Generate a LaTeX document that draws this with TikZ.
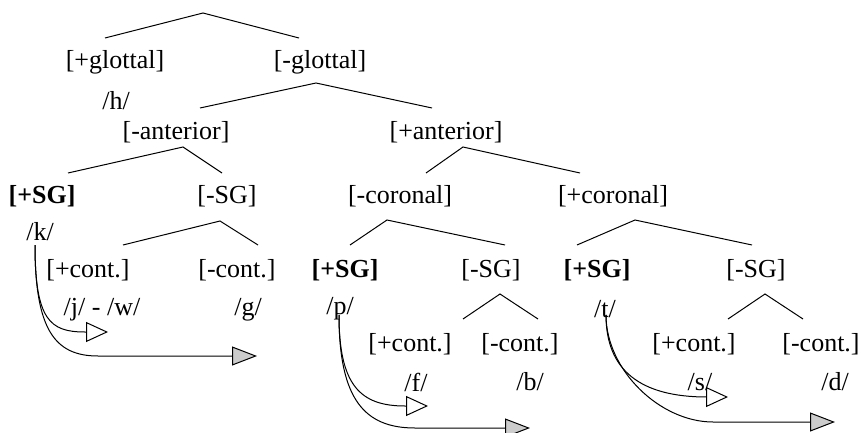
\documentclass[tikz,border=0pt]{standalone}
\usepackage{fontspec}
\setmainfont{Liberation Serif}
\usetikzlibrary{arrows.meta}
\begin{document}
\begin{tikzpicture}[x=1pt,y=-1pt,
  lbl/.style={inner sep=0pt, font=\fontsize{26}{30}\selectfont},
  bl/.style={inner sep=0pt, font=\fontsize{26}{30}\selectfont\bfseries},
  br/.style={line width=1pt},
  arr/.style={line width=1pt},
  opentip/.style={-{Triangle[fill=white, length=22pt, width=20pt]}},
  graytip/.style={-{Triangle[fill=gray!40, length=25pt, width=19pt]}}]
\useasboundingbox[fill=white] (0,0) rectangle (861,433);
% labels
\node[lbl] (glp) at (115,62) {[+glottal]};
\node[lbl] (glm) at (320,62) {[-glottal]};
\node[lbl] (h) at (116,101) {/h/};
\node[lbl] (antm) at (176,132) {[-anterior]};
\node[lbl] (antp) at (446,132) {[+anterior]};
\node[bl] (sg1) at (42,196) {[+SG]};
\node[lbl] (sgm1) at (227,196) {[-SG]};
\node[lbl] (corm) at (400,196) {[-coronal]};
\node[lbl] (corp) at (613,196) {[+coronal]};
\node[lbl] (k) at (40,232) {/k/};
\node[lbl] (contp1) at (88,270) {[+cont.]};
\node[lbl] (contm1) at (237,270) {[-cont.]};
\node[lbl] (jw) at (102,310) {/j/ - /w/};
\node[lbl] (g) at (248,310) {/g/};
\node[bl] (sg2) at (345,270) {[+SG]};
\node[lbl] (sgm2) at (491,270) {[-SG]};
\node[lbl] (p) at (340,309) {/p/};
\node[lbl] (contp2) at (410,344) {[+cont.]};
\node[lbl] (contm2) at (520,344) {[-cont.]};
\node[lbl] (f) at (416,382) {/f/};
\node[lbl] (b) at (530,382) {/b/};
\node[bl] (sg3) at (597,270) {[+SG]};
\node[lbl] (sgm3) at (756,270) {[-SG]};
\node[lbl] (t) at (605,309) {/t/};
\node[lbl] (contp3) at (694,344) {[+cont.]};
\node[lbl] (contm3) at (821,344) {[-cont.]};
\node[lbl] (s) at (700,382) {/s/};
\node[lbl] (d) at (835,382) {/d/};
% tree branch points
\coordinate (r0l) at (105,38); \coordinate (r0) at (203,13); \coordinate (r0r) at (299,38);
\coordinate (r1l) at (200,108); \coordinate (r1) at (316,83); \coordinate (r1r) at (432,108);
\coordinate (r2l) at (68,173); \coordinate (r2) at (183,147); \coordinate (r2r) at (222,173);
\coordinate (r3l) at (426,173); \coordinate (r3) at (463,147); \coordinate (r3r) at (580,173);
\coordinate (r4l) at (123,245); \coordinate (r4) at (220,221); \coordinate (r4r) at (258,245);
\coordinate (r5l) at (350,245); \coordinate (r5) at (387,220); \coordinate (r5r) at (505,245);
\coordinate (r6l) at (577,245); \coordinate (r6) at (635,220); \coordinate (r6r) at (752,245);
\coordinate (r7l) at (463,319); \coordinate (r7) at (500,294); \coordinate (r7r) at (538,319);
\coordinate (r8l) at (728,319); \coordinate (r8) at (765,294); \coordinate (r8r) at (803,319);
\foreach \i in {0,...,8} { \draw[br] (r\i l) -- (r\i) -- (r\i r); }
% arrows
\coordinate (kS) at (35,245); \coordinate (kI) at (108,332); \coordinate (kO) at (257,356);
\coordinate (pS) at (339,315); \coordinate (pI) at (428,406); \coordinate (pO) at (530,428);
\coordinate (tS) at (606,315); \coordinate (tI) at (728,397); \coordinate (tO) at (835,422);
\draw[arr,opentip] (kS) .. controls (35,320) and (50,332) .. (85,332) -- (kI);
\draw[arr,graytip] (kS) .. controls (35,330) and (55,356) .. (98,356) -- (kO);
\draw[arr,opentip] (pS) .. controls (339,385) and (360,406) .. (405,406) -- (pI);
\draw[arr,graytip] (pS) .. controls (339,400) and (365,428) .. (415,428) -- (pO);
\draw[arr,opentip] (tS) .. controls (606,370) and (640,397) .. (707,397) -- (tI);
\draw[arr,graytip] (tS) .. controls (606,370) and (660,422) .. (713,422) -- (tO);
\end{tikzpicture}
\end{document}
